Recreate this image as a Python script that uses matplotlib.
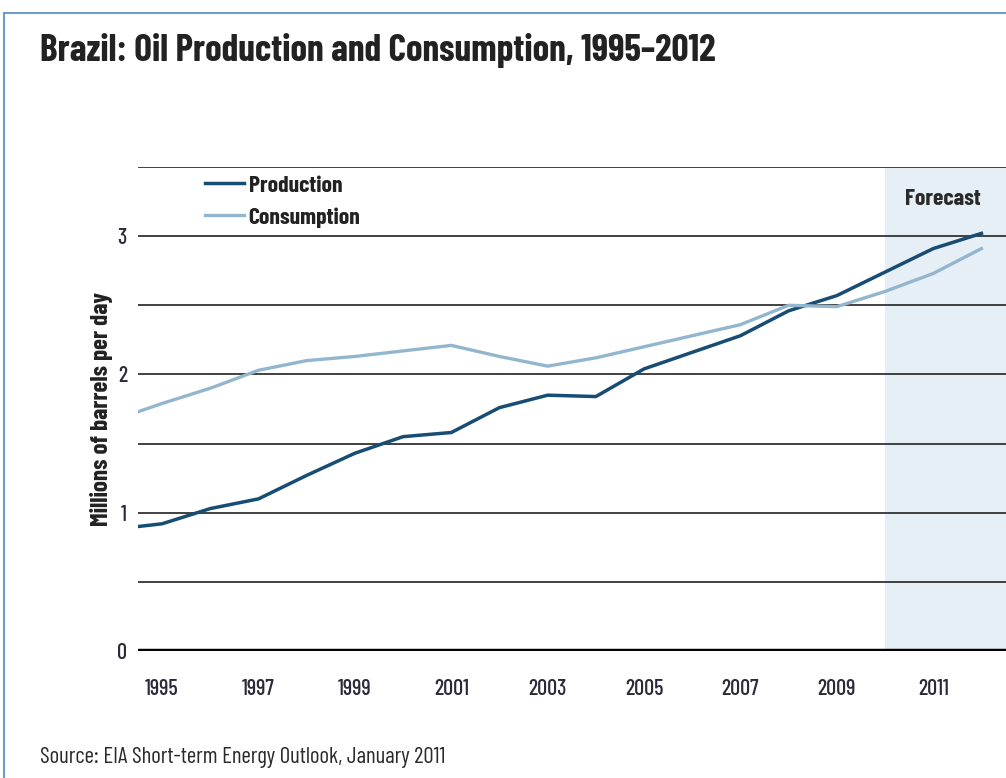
import matplotlib.pyplot as plt
from matplotlib.lines import Line2D

# data (millions of barrels per day)
years = [1994.5, 1995, 1996, 1997, 1998, 1999, 2000, 2001, 2002, 2003,
         2004, 2005, 2006, 2007, 2008, 2009, 2010, 2011, 2012]
production = [0.90, 0.92, 1.03, 1.10, 1.27, 1.43, 1.55, 1.58, 1.76, 1.85,
              1.84, 2.04, 2.16, 2.28, 2.46, 2.57, 2.74, 2.91, 3.02]
consumption = [1.73, 1.79, 1.90, 2.03, 2.10, 2.13, 2.17, 2.21, 2.13, 2.06,
               2.12, 2.20, 2.28, 2.36, 2.50, 2.49, 2.60, 2.73, 2.91]
xtick_years = [1995, 1997, 1999, 2001, 2003, 2005, 2007, 2009, 2011]
forecast_start = 2010

font = ['Barlow Condensed', 'DejaVu Sans']
plt.rcParams['font.family'] = font

fig = plt.figure(figsize=(10.06, 7.78), dpi=100)
ax = fig.add_axes([138 / 1006, 1 - 651 / 778, 1 - 138 / 1006, (651 - 167) / 778])

ax.axvspan(forecast_start, 2014, color='#e6eef6', zorder=0, lw=0)

# gridlines every half unit
for y in [0.5, 1, 1.5, 2, 2.5, 3, 3.5]:
    ax.axhline(y, color='#333333', lw=1.3, zorder=1)
ax.axhline(0, color='black', lw=3.2, zorder=3)

ax.plot(years, production, color='#174d72', lw=2.5, label='Production', zorder=4)
ax.plot(years, consumption, color='#93b6cf', lw=2.4, label='Consumption', zorder=4)

ax.set_xlim(1994.5, 2012.51)
ax.set_ylim(0, 3.5)
ax.set_yticks([0, 1, 2, 3])
ax.set_xticks(xtick_years)
ax.tick_params(axis='y', length=0, pad=8, labelsize=16, labelcolor='#2a2a3a')
ax.tick_params(axis='x', length=0, pad=20, labelsize=16, labelcolor='#2a2a3a')
for lab in ax.get_xticklabels() + ax.get_yticklabels():
    lab.set_fontweight('medium')
for s in ax.spines.values():
    s.set_visible(False)

ax.set_ylabel('Millions of barrels per day', fontsize=18, fontweight='bold',
              color='#222222', labelpad=3)

ax.text(2011.2, 3.27, 'Forecast', fontsize=17, fontweight='bold',
        ha='center', va='center', color='#2a2a2a')

leg = ax.legend(loc='upper left', bbox_to_anchor=(0.077, 0.983), frameon=False,
                prop={'family': font, 'weight': 'bold', 'size': 17},
                handlelength=1.65, handletextpad=0.2, labelspacing=0.48,
                borderpad=0, borderaxespad=0)
for t in leg.get_texts():
    t.set_color('#222222')

fig.text(40 / 1006, 1 - 50 / 778, 'Brazil: Oil Production and Consumption, 1995\u20132012',
         fontsize=27, fontweight='bold', color='#222222', va='center', ha='left')
fig.text(40 / 1006, 1 - 757 / 778, 'Source: EIA Short-term Energy Outlook, January 2011',
         fontsize=16.5, color='#2a2a2a', va='center', ha='left')

# thin blue frame on top and left edges
fig.add_artist(Line2D([4 / 1006, 4 / 1006], [0, 1 - 13 / 778], color='#6f9bd1', lw=1.5))
fig.add_artist(Line2D([4 / 1006, 1], [1 - 13 / 778, 1 - 13 / 778], color='#6f9bd1', lw=1.5))

fig.savefig('out.png', dpi=100)
